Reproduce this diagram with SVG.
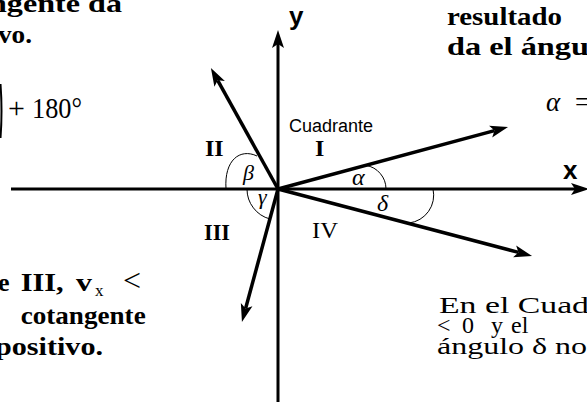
<svg xmlns="http://www.w3.org/2000/svg" width="587" height="402" viewBox="0 0 587 402">
<style>
.bt{font-family:"Liberation Serif",serif;font-weight:bold;font-size:26px;fill:#000}
.rt{font-family:"Liberation Serif",serif;font-size:24px;fill:#000}
.gr{font-family:"Liberation Serif",serif;font-style:italic;fill:#000}
.num{font-family:"Liberation Serif",serif;font-weight:bold;font-size:24px;fill:#000}
.ax{font-family:"Liberation Sans",sans-serif;font-weight:bold;font-size:26px;fill:#000}
.vec{stroke:#000;stroke-width:3.5;fill:none;marker-end:url(#ah)}
.axis{stroke:#000;stroke-width:3;fill:none;marker-end:url(#ah)}
.arc{stroke:#000;stroke-width:1;fill:none}
</style>
<defs>
<marker id="ah" markerUnits="userSpaceOnUse" markerWidth="20" markerHeight="14" viewBox="0 0 20 14" refX="4" refY="7" orient="auto">
<path d="M0,1 L18,7 L0,13 L4,7 Z" fill="#000"/>
</marker>
</defs>
<rect width="587" height="402" fill="#fff"/>

<g id="text-top-left">
<text class="bt" x="-11" y="12" textLength="133" lengthAdjust="spacingAndGlyphs">ngente da</text>
<text class="bt" x="-2" y="43" textLength="34" lengthAdjust="spacingAndGlyphs">vo.</text>
<path d="M0.5,84 Q2.5,111 0.5,138" stroke="#000" stroke-width="2" fill="none"/>
<text class="rt" x="8" y="118" style="font-size:30px">+</text>
<text class="rt" x="32" y="118" style="font-size:30px" textLength="50" lengthAdjust="spacingAndGlyphs">180°</text>
</g>

<g id="text-top-right">
<text class="bt" x="447" y="25" textLength="115" lengthAdjust="spacingAndGlyphs">resultado</text>
<text class="bt" x="447" y="55" textLength="142" lengthAdjust="spacingAndGlyphs">da el ángu</text>
<text class="gr" x="546" y="111" style="font-size:27px">α</text>
<text class="rt" x="575" y="111" style="font-size:27px">=</text>
</g>

<g id="text-bottom-left">
<text class="bt" x="-2" y="291">e</text>
<text class="bt" x="20.7" y="291" textLength="43" lengthAdjust="spacingAndGlyphs">III,</text>
<text class="bt" x="76" y="291" textLength="16" lengthAdjust="spacingAndGlyphs">v</text>
<text class="rt" x="95" y="296" style="font-size:17px">x</text>
<text class="rt" x="123" y="291" style="font-size:32px">&lt;</text>
<text class="bt" x="20.7" y="324" textLength="125" lengthAdjust="spacingAndGlyphs">cotangente</text>
<text class="bt" x="-5" y="355" textLength="108" lengthAdjust="spacingAndGlyphs">positivo.</text>
</g>

<g id="text-bottom-right">
<text class="rt" x="439" y="313" textLength="150" lengthAdjust="spacingAndGlyphs">En el Cuad</text>
<text class="rt" y="333"><tspan x="437">&lt;</tspan><tspan x="462">0</tspan><tspan x="491">y</tspan><tspan x="511">el</tspan></text>
<text class="rt" x="437" y="354" textLength="150" lengthAdjust="spacingAndGlyphs">ángulo δ no</text>
</g>

<g id="connectors">
<line class="axis" x1="11" y1="189" x2="575" y2="189"/>
<line class="axis" x1="278" y1="402" x2="278" y2="44"/>
<line class="vec" x1="278" y1="189" x2="494.5" y2="130.6"/>
<line class="vec" x1="278" y1="189" x2="217.7" y2="80.3"/>
<line class="vec" x1="278" y1="189" x2="245.6" y2="308.5"/>
<line class="vec" x1="278" y1="189" x2="518.5" y2="252.4"/>
</g>

<g id="angles">
<path class="arc" d="M257,156 C240,148 224,160 226,189"/>
<path class="arc" d="M247,189 A31,31 0 0 0 270,219"/>
<path class="arc" d="M366,165.4 A24,24 0 0 1 386,189"/>
<path class="arc" d="M433,189 A28,28 0 0 1 409,223"/>
</g>

<g id="labels">
<text class="ax" x="289" y="25">y</text>
<text class="ax" x="563" y="179">x</text>
<text x="289" y="132" style="font-family:'Liberation Sans',sans-serif;font-size:18px">Cuadrante</text>
<text class="num" x="205" y="156">II</text>
<text class="num" x="315" y="156">I</text>
<text class="num" x="204" y="240" textLength="26" lengthAdjust="spacingAndGlyphs">III</text>
<text class="rt" x="312" y="238" textLength="26" lengthAdjust="spacingAndGlyphs">IV</text>
<text class="gr" x="243" y="180" style="font-size:22px">β</text>
<text class="gr" x="258" y="204" style="font-size:22px">γ</text>
<text class="gr" x="352" y="185" style="font-size:24px">α</text>
<text class="gr" x="377" y="211" style="font-size:24px">δ</text>
</g>
</svg>
